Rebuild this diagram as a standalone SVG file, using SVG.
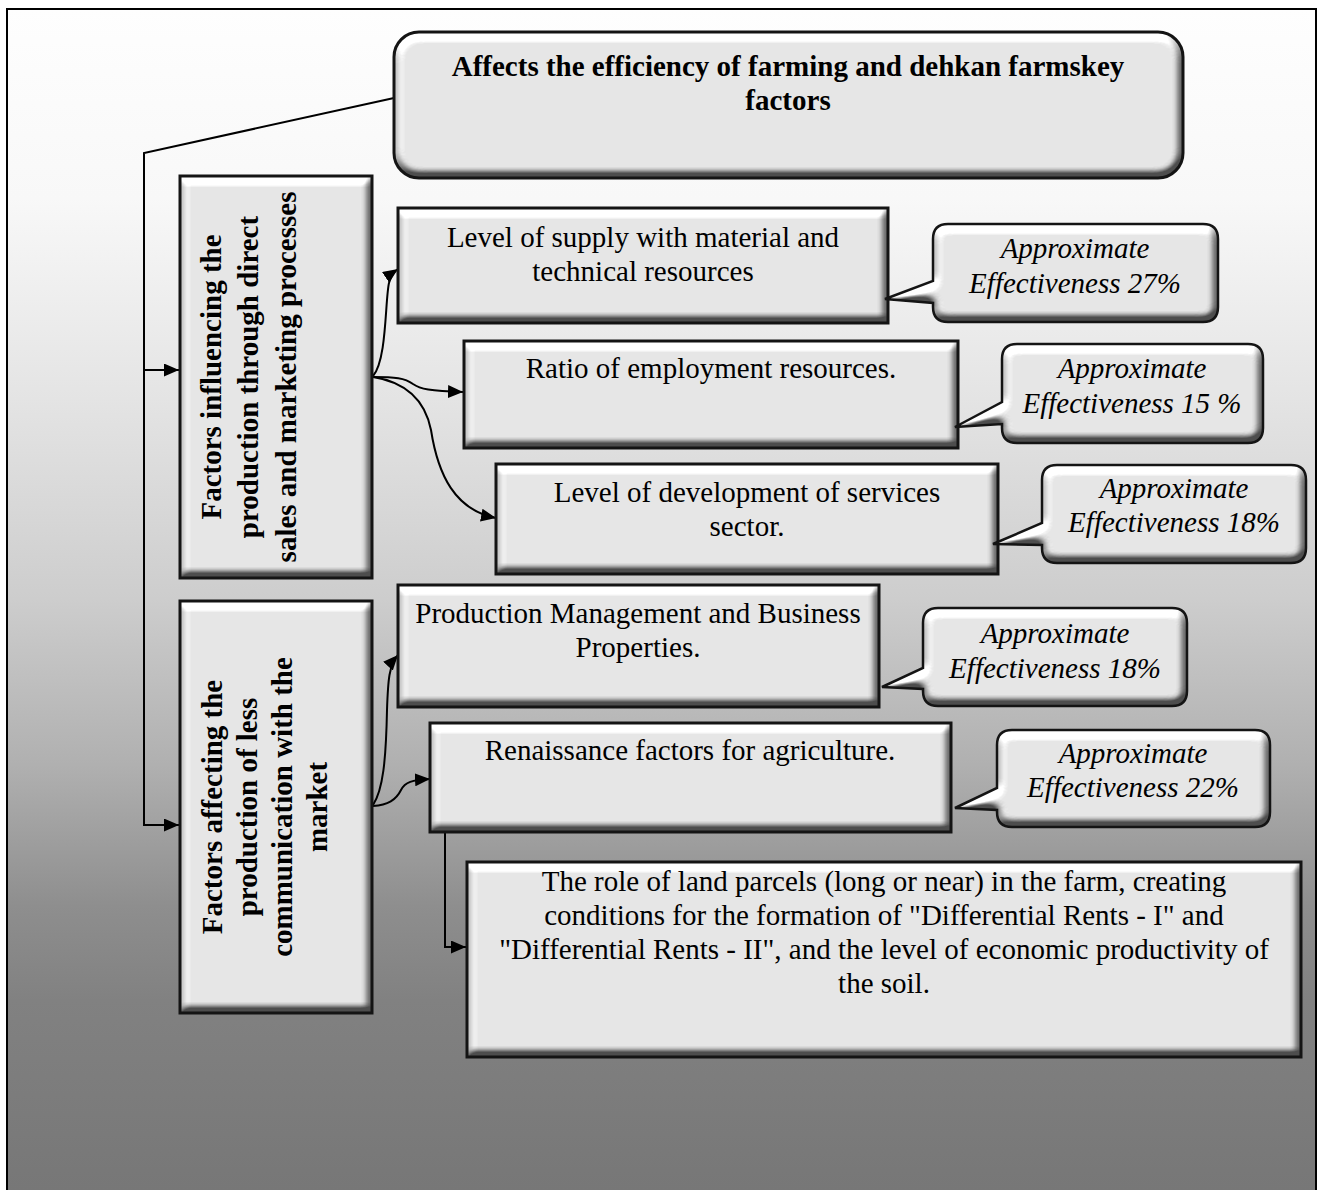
<svg xmlns="http://www.w3.org/2000/svg" width="1323" height="1190" viewBox="0 0 1323 1190">
<defs>
  <linearGradient id="bg" gradientUnits="userSpaceOnUse" x1="0" y1="9" x2="0" y2="1190">
    <stop offset="0" stop-color="#fefefe"/>
    <stop offset="0.16" stop-color="#f8f8f8"/>
    <stop offset="0.33" stop-color="#e4e4e4"/>
    <stop offset="0.5" stop-color="#cdcdcd"/>
    <stop offset="0.64" stop-color="#b0b0b0"/>
    <stop offset="0.76" stop-color="#8e8e8e"/>
    <stop offset="0.84" stop-color="#818181"/>
    <stop offset="1" stop-color="#777777"/>
  </linearGradient>
  <filter id="bevel" color-interpolation-filters="sRGB">
    <feGaussianBlur in="SourceAlpha" stdDeviation="4" result="b"/>
    <feDiffuseLighting in="b" surfaceScale="10" diffuseConstant="1" lighting-color="#ffffff" result="l">
      <feDistantLight azimuth="250" elevation="45"/>
    </feDiffuseLighting>
    <feComposite in="SourceGraphic" in2="l" operator="arithmetic" k1="0" k2="1" k3="0.85" k4="-0.601" result="c"/>
    <feComposite in="c" in2="SourceAlpha" operator="in"/>
  </filter>
  <marker id="ah" viewBox="0 0 15 13" refX="15" refY="6.5" markerWidth="15" markerHeight="13" markerUnits="userSpaceOnUse" orient="auto">
    <path d="M0,0 L15,6.5 L0,13 Z" fill="#000"/>
  </marker>
</defs>
<style>
  .fill { fill: #e6e6e6; filter: url(#bevel); }
  .edge { fill: none; stroke: #141414; stroke-width: 3; }
  .cedge { fill: none; stroke: #141414; stroke-width: 2.5; }
  .t { font-family: "Liberation Serif", "Times New Roman", serif; font-size: 29px; fill: #000; text-anchor: middle; }
  .b { font-weight: bold; }
  .i { font-style: italic; }
  .conn { fill: none; stroke: #000; stroke-width: 2; }
</style>

<rect x="7" y="9" width="1309" height="1200" fill="url(#bg)" stroke="#000" stroke-width="2"/>

<g id="connectors">
  <path class="conn" d="M394,98 L144,153 V825 H179" marker-end="url(#ah)"/>
  <path class="conn" d="M144,370 H179" marker-end="url(#ah)"/>
  <path class="conn" d="M373,376 C387,360 385,300 389,283 Q392,273 398,269" marker-end="url(#ah)"/>
  <path class="conn" d="M373,377 C395,377 405,378 413,384 C420,389 430,391 463,392" marker-end="url(#ah)"/>
  <path class="conn" d="M373,377 C405,382 425,400 431,430 C438,475 455,510 496,518" marker-end="url(#ah)"/>
  <path class="conn" d="M373,805 C383,790 386,760 387,710 C388,680 389,665 398,655" marker-end="url(#ah)"/>
  <path class="conn" d="M373,806 C388,805 396,800 401,790 C405,782 412,780 430,779" marker-end="url(#ah)"/>
  <path class="conn" d="M445,832 V947 H466" marker-end="url(#ah)"/>
</g>

<g id="node-top">
  <rect class="fill" x="394" y="32" width="789" height="146" rx="25"/>
  <rect class="edge" x="394" y="32" width="789" height="146" rx="25"/>
  <text class="t b" x="788" y="76">Affects the efficiency of farming and dehkan farmskey</text>
  <text class="t b" x="788" y="110">factors</text>
</g>

<g id="node-left1">
  <rect class="fill" x="180" y="176" width="192" height="402"/>
  <rect class="edge" x="180" y="176" width="192" height="402"/>
  <g transform="translate(0,377) rotate(-90)">
    <text class="t b" x="0" y="221">Factors influencing the</text>
    <text class="t b" x="0" y="258">production through direct</text>
    <text class="t b" x="0" y="296">sales and marketing processes</text>
  </g>
</g>

<g id="node-left2">
  <rect class="fill" x="180" y="601" width="192" height="412"/>
  <rect class="edge" x="180" y="601" width="192" height="412"/>
  <g transform="translate(0,807) rotate(-90)">
    <text class="t b" x="0" y="222">Factors affecting the</text>
    <text class="t b" x="0" y="257">production of less</text>
    <text class="t b" x="0" y="292">communication with the</text>
    <text class="t b" x="0" y="327">market</text>
  </g>
</g>

<g id="node-supply">
  <rect class="fill" x="398" y="208" width="490" height="115"/>
  <rect class="edge" x="398" y="208" width="490" height="115"/>
  <text class="t" x="643" y="247">Level of supply with material and</text>
  <text class="t" x="643" y="281">technical resources</text>
</g>

<g id="node-employment">
  <rect class="fill" x="464" y="341" width="494" height="107"/>
  <rect class="edge" x="464" y="341" width="494" height="107"/>
  <text class="t" x="711" y="378">Ratio of employment resources.</text>
</g>

<g id="node-services">
  <rect class="fill" x="496" y="464" width="502" height="110"/>
  <rect class="edge" x="496" y="464" width="502" height="110"/>
  <text class="t" x="747" y="502">Level of development of services</text>
  <text class="t" x="747" y="536">sector.</text>
</g>

<g id="node-management">
  <rect class="fill" x="398" y="585" width="481" height="122"/>
  <rect class="edge" x="398" y="585" width="481" height="122"/>
  <text class="t" x="638" y="623">Production Management and Business</text>
  <text class="t" x="638" y="657">Properties.</text>
</g>

<g id="node-renaissance">
  <rect class="fill" x="430" y="723" width="521" height="109"/>
  <rect class="edge" x="430" y="723" width="521" height="109"/>
  <text class="t" x="690" y="760">Renaissance factors for agriculture.</text>
</g>

<g id="node-land">
  <rect class="fill" x="467" y="862" width="834" height="195"/>
  <rect class="edge" x="467" y="862" width="834" height="195"/>
  <text class="t" x="884" y="891">The role of land parcels (long or near) in the farm, creating</text>
  <text class="t" x="884" y="925">conditions for the formation of "Differential Rents - I" and</text>
  <text class="t" x="884" y="959">"Differential Rents - II", and the level of economic productivity of</text>
  <text class="t" x="884" y="993">the soil.</text>
</g>

<g id="callout-27">
  <path class="fill" d="M948,224 H1203 Q1218,224 1218,239 V307 Q1218,322 1203,322 H948 Q933,322 933,307 V303 L885,299 L933,281 V239 Q933,224 948,224 Z"/>
  <path class="cedge" d="M948,224 H1203 Q1218,224 1218,239 V307 Q1218,322 1203,322 H948 Q933,322 933,307 V303 L885,299 L933,281 V239 Q933,224 948,224 Z"/>
  <text class="t i" x="1075" y="258">Approximate</text>
  <text class="t i" x="1075" y="293">Effectiveness 27%</text>
</g>

<g id="callout-15">
  <path class="fill" d="M1017,344 H1248 Q1263,344 1263,359 V428 Q1263,443 1248,443 H1017 Q1002,443 1002,428 V424 L955,427 L1002,402 V359 Q1002,344 1017,344 Z"/>
  <path class="cedge" d="M1017,344 H1248 Q1263,344 1263,359 V428 Q1263,443 1248,443 H1017 Q1002,443 1002,428 V424 L955,427 L1002,402 V359 Q1002,344 1017,344 Z"/>
  <text class="t i" x="1132" y="378">Approximate</text>
  <text class="t i" x="1132" y="413">Effectiveness 15 %</text>
</g>

<g id="callout-18a">
  <path class="fill" d="M1057,465 H1291 Q1306,465 1306,480 V548 Q1306,563 1291,563 H1057 Q1042,563 1042,548 V545 L993,544 L1042,523 V480 Q1042,465 1057,465 Z"/>
  <path class="cedge" d="M1057,465 H1291 Q1306,465 1306,480 V548 Q1306,563 1291,563 H1057 Q1042,563 1042,548 V545 L993,544 L1042,523 V480 Q1042,465 1057,465 Z"/>
  <text class="t i" x="1174" y="498">Approximate</text>
  <text class="t i" x="1174" y="532">Effectiveness 18%</text>
</g>

<g id="callout-18b">
  <path class="fill" d="M938,608 H1172 Q1187,608 1187,623 V691 Q1187,706 1172,706 H938 Q923,706 923,691 V689 L882,687 L923,668 V623 Q923,608 938,608 Z"/>
  <path class="cedge" d="M938,608 H1172 Q1187,608 1187,623 V691 Q1187,706 1172,706 H938 Q923,706 923,691 V689 L882,687 L923,668 V623 Q923,608 938,608 Z"/>
  <text class="t i" x="1055" y="643">Approximate</text>
  <text class="t i" x="1055" y="678">Effectiveness 18%</text>
</g>

<g id="callout-22">
  <path class="fill" d="M1012,730 H1255 Q1270,730 1270,745 V812 Q1270,827 1255,827 H1012 Q997,827 997,812 V810 L955,808 L997,788 V745 Q997,730 1012,730 Z"/>
  <path class="cedge" d="M1012,730 H1255 Q1270,730 1270,745 V812 Q1270,827 1255,827 H1012 Q997,827 997,812 V810 L955,808 L997,788 V745 Q997,730 1012,730 Z"/>
  <text class="t i" x="1133" y="763">Approximate</text>
  <text class="t i" x="1133" y="797">Effectiveness 22%</text>
</g>
</svg>
